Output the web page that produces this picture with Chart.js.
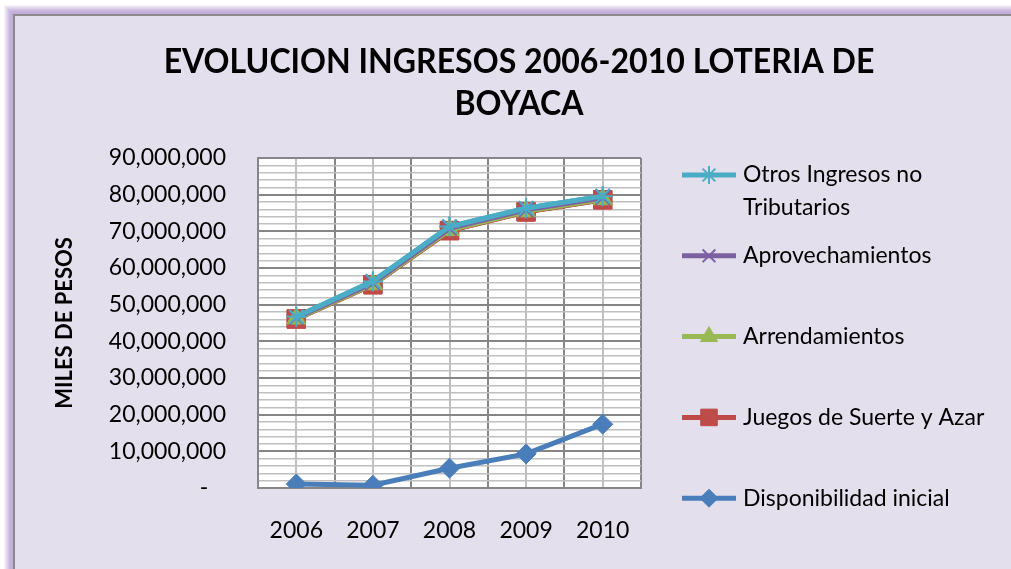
<!DOCTYPE html>
<html>
<head>
<meta charset="utf-8">
<script src="https://cdn.jsdelivr.net/npm/chart.js@4.4.0/dist/chart.umd.min.js"></script>
<style>
html, body { margin: 0; padding: 0; background: #fff; overflow: hidden; }
canvas { display: block; }
</style>
</head>
<body>
<canvas id="myChart" width="1011" height="569"></canvas>
<script>
// data (miles de pesos), stacked like the excel chart
const years = ['2006', '2007', '2008', '2009', '2010'];
const disponibilidad = [1100000, 750000, 5400000, 9300000, 17400000];
const juegos = [45000000, 54700000, 64800000, 66000000, 61200000];
const arrendamientos = [100000, 120000, 150000, 150000, 160000];
const aprovechamientos = [250000, 350000, 450000, 400000, 400000];
const otros = [250000, 430000, 500000, 450000, 440000];

const titleLines = ['EVOLUCION INGRESOS 2006-2010 LOTERIA DE', 'BOYACA'];
const yTitle = 'MILES DE PESOS';

const FONT = "Lato, 'Open Sans', sans-serif";

const datasets = [
  { label: 'Disponibilidad inicial', data: disponibilidad, color: '#4A7EBB', pointStyle: 'rectRot', pointRadius: 10, pointBorderWidth: 1 },
  { label: 'Juegos de Suerte y Azar', data: juegos, color: '#BE4B48', pointStyle: 'rect', pointRadius: 13, pointBorderWidth: 1 },
  { label: 'Arrendamientos', data: arrendamientos, color: '#98B954', pointStyle: 'triangle', pointRadius: 11, pointBorderWidth: 1 },
  { label: 'Aprovechamientos', data: aprovechamientos, color: '#7D60A0', pointStyle: 'crossRot', pointRadius: 10, pointBorderWidth: 2 },
  { label: 'Otros Ingresos no Tributarios', data: otros, color: '#4BACC6', pointStyle: 'star', pointRadius: 10, pointBorderWidth: 2 }
].map(d => ({
  label: d.label,
  data: d.data,
  borderColor: d.color,
  backgroundColor: d.color,
  pointBackgroundColor: d.color,
  pointBorderColor: d.color,
  pointStyle: d.pointStyle,
  pointRadius: d.pointRadius,
  pointBorderWidth: d.pointBorderWidth,
  borderWidth: 5,
  tension: 0,
  fill: false
}));

// background, frame, white plot area, light lines through the middle of each year
const framePlugin = {
  id: 'frame',
  beforeDraw(chart) {
    const ctx = chart.ctx, a = chart.chartArea, xs = chart.scales.x;
    const W = chart.width, H = chart.height;
    ctx.save();
    ctx.fillStyle = '#ffffff';
    ctx.fillRect(0, 0, W, H);
    // purple glow outside the frame
    const glow = ['#f6f2fa', '#ede6f4', '#e4daee', '#dbcee8', '#d3c3e3', '#ccb9df', '#c7b2dc', '#c4aeda', '#c2acd9'];
    glow.forEach((c, i) => {
      ctx.fillStyle = c;
      ctx.fillRect(4 + i, 5 + i, W, H);
    });
    ctx.fillStyle = '#8a8a8a';
    ctx.fillRect(13, 14, W, H);
    ctx.fillStyle = '#e4dfec';
    ctx.fillRect(15, 16, W, H);
    ctx.fillStyle = '#ffffff';
    ctx.fillRect(a.left, a.top, a.width, a.height);
    ctx.strokeStyle = '#c0c0c0';
    ctx.lineWidth = 2;
    years.forEach((y, i) => {
      const px = Math.round(xs.getPixelForValue(i));
      ctx.beginPath();
      ctx.moveTo(px, a.top);
      ctx.lineTo(px, a.bottom);
      ctx.stroke();
    });
    ctx.restore();
  }
};

// excel draws the later series on top
const orderPlugin = {
  id: 'redrawOrder',
  afterDatasetsDraw(chart) {
    for (let i = 1; i < chart.data.datasets.length; i++) {
      chart.getDatasetMeta(i).controller.draw();
    }
  }
};

// title and legend in the excel layout
const textPlugin = {
  id: 'texts',
  afterDraw(chart) {
    const ctx = chart.ctx;
    ctx.save();
    // title, fitted to the width of the first line
    ctx.font = 'bold 100px ' + FONT;
    const size = 100 * 712 / ctx.measureText(titleLines[0]).width;
    ctx.font = 'bold ' + size.toFixed(1) + 'px ' + FONT;
    ctx.fillStyle = '#000';
    ctx.textAlign = 'center';
    ctx.textBaseline = 'middle';
    ctx.save();
    ctx.translate(519, 0);
    ctx.scale(1, 1.08);
    ctx.fillText(titleLines[0], 0, 62 / 1.08);
    ctx.fillText(titleLines[1], 0, 104 / 1.08);
    ctx.restore();

    // legend, reversed like excel
    const items = chart.data.datasets.slice().reverse();
    ctx.font = '23px ' + FONT;
    ctx.textAlign = 'left';
    items.forEach((ds, i) => {
      const y = 175 + i * 80.8;
      ctx.strokeStyle = ds.borderColor;
      ctx.lineWidth = 5;
      ctx.beginPath();
      ctx.moveTo(682, y);
      ctx.lineTo(736, y);
      ctx.stroke();
      ctx.fillStyle = ds.pointBackgroundColor;
      ctx.strokeStyle = ds.pointBorderColor;
      ctx.lineWidth = ds.pointBorderWidth;
      Chart.helpers.drawPoint(ctx, { pointStyle: ds.pointStyle, radius: ds.pointRadius * 0.9, borderWidth: ds.pointBorderWidth, rotation: 0 }, 709, y);
      // wrap long labels
      const words = ds.label.split(' ');
      const lines = [];
      let cur = '';
      words.forEach(w => {
        const t = cur ? cur + ' ' + w : w;
        if (ctx.measureText(t).width > 262 && cur) { lines.push(cur); cur = w; } else { cur = t; }
      });
      lines.push(cur);
      ctx.fillStyle = '#000';
      lines.forEach((l, k) => ctx.fillText(l, 743, y + k * 33));
    });
    ctx.restore();
  }
};

const config = {
  type: 'line',
  data: { labels: years, datasets: datasets },
  options: {
    responsive: false,
    animation: false,
    devicePixelRatio: 1,
    layout: { padding: { top: 158, right: 370, bottom: 0, left: 0 } },
    plugins: {
      legend: { display: false },
      title: { display: false },
      tooltip: { enabled: false }
    },
    scales: {
      x: {
        offset: true,
        afterFit: s => { s.height = 81; },
        border: { color: '#868686', width: 2 },
        grid: { offset: true, color: '#868686', lineWidth: 2, drawTicks: false },
        ticks: { padding: 29, color: '#000', font: { family: FONT, size: 23 } }
      },
      y: {
        stacked: true,
        min: 0,
        max: 90000000,
        afterFit: s => { s.width = 258; },
        border: { color: '#868686', width: 2 },
        grid: {
          drawTicks: false,
          color: c => (c.tick && c.tick.value % 10000000 === 0) ? '#868686' : '#c0c0c0',
          lineWidth: c => (c.tick && c.tick.value % 10000000 === 0) ? 2 : 1.5
        },
        ticks: {
          stepSize: 2000000,
          autoSkip: false,
          maxTicksLimit: 100,
          padding: 32,
          color: '#000',
          font: { family: FONT, size: 23 },
          callback: v => v % 10000000 !== 0 ? '' : (v === 0 ? '-   ' : v.toLocaleString('en-US'))
        },
        title: {
          display: true,
          text: yTitle,
          color: '#000',
          font: { family: FONT, size: 22, weight: 'bold' },
          padding: { top: 52, bottom: 0 }
        }
      }
    }
  },
  plugins: [framePlugin, orderPlugin, textPlugin]
};

const myChart = new Chart(document.getElementById('myChart'), config);
</script>
</body>
</html>
